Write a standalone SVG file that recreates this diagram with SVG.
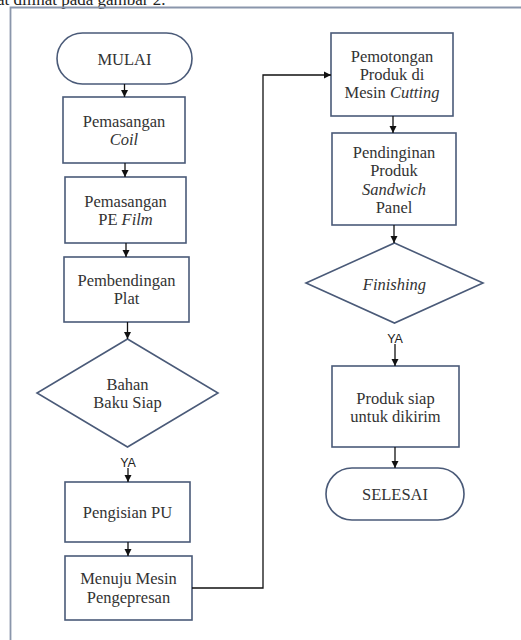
<svg xmlns="http://www.w3.org/2000/svg" width="521" height="640" viewBox="0 0 521 640">
<defs>
<marker id="ah" markerWidth="8" markerHeight="8" refX="7" refY="4" orient="auto" markerUnits="userSpaceOnUse">
<path d="M0,0.5 L7,4 L0,7.5 Z" fill="#111"/>
</marker>
<style>
.box{fill:#fff;stroke:#4a5a78;stroke-width:1.6}
.t{font-family:'Liberation Serif','DejaVu Serif',serif;font-size:16.5px;fill:#333;text-anchor:middle}
.i{font-style:italic}
.ya{font-family:'Liberation Sans',Arial,sans-serif;font-size:12.5px;fill:#222;text-anchor:middle}
.c{fill:none;stroke:#111;stroke-width:1.3}
</style>
</defs>
<rect width="521" height="640" fill="#fff"/>
<text x="-3" y="5" font-family="Liberation Serif, serif" font-size="17" fill="#222">at dilihat pada gambar 2.</text>
<path d="M10.5,640 V7.5 H521" fill="none" stroke="#8a96ab" stroke-width="1.8"/>

<g font-family="Liberation Serif, serif">
<g id="mulai"><rect class="box" x="57" y="33" width="135" height="51" rx="25.5"/><text class="t" x="124.5" y="64.5">MULAI</text></g>
<g id="coil"><rect class="box" x="63" y="97" width="122" height="66"/><text class="t" x="124" y="127">Pemasangan</text><text class="t i" x="124" y="145">Coil</text></g>
<g id="pefilm"><rect class="box" x="65" y="177" width="121" height="66"/><text class="t" x="125.5" y="207">Pemasangan</text><text class="t" x="125.5" y="225">PE <tspan class="i">Film</tspan></text></g>
<g id="pembendingan"><rect class="box" x="64" y="257" width="125" height="65"/><text class="t" x="126.5" y="285.5">Pembendingan</text><text class="t" x="126.5" y="303.5">Plat</text></g>
<g id="bahan"><polygon class="box" points="127.5,339 218,393 127.5,447 37,393"/><text class="t" x="127.5" y="390">Bahan</text><text class="t" x="127.5" y="408">Baku Siap</text></g>
<g id="pengisian"><rect class="box" x="65" y="482" width="125" height="60"/><text class="t" x="127.5" y="518">Pengisian PU</text></g>
<g id="menuju"><rect class="box" x="65" y="556" width="127" height="64"/><text class="t" x="128.5" y="584">Menuju Mesin</text><text class="t" x="128.5" y="603">Pengepresan</text></g>
<g id="pemotongan"><rect class="box" x="331" y="33" width="122" height="83"/><text class="t" x="392" y="62">Pemotongan</text><text class="t" x="392" y="80">Produk di</text><text class="t" x="392" y="98">Mesin <tspan class="i">Cutting</tspan></text></g>
<g id="pendinginan"><rect class="box" x="332" y="133" width="124" height="92"/><text class="t" x="394" y="158">Pendinginan</text><text class="t" x="394" y="176">Produk</text><text class="t i" x="394" y="195">Sandwich</text><text class="t" x="394" y="213">Panel</text></g>
<g id="finishing"><polygon class="box" points="394.5,243 483,283 394.5,323 306,283"/><text class="t i" x="394.5" y="290">Finishing</text></g>
<g id="produk"><rect class="box" x="332" y="366" width="127" height="81"/><text class="t" x="395.5" y="404">Produk siap</text><text class="t" x="395.5" y="422">untuk dikirim</text></g>
<g id="selesai"><rect class="box" x="326" y="468" width="138" height="52" rx="26"/><text class="t" x="395" y="499.5">SELESAI</text></g>
</g>

<g id="connectors">
<line class="c" x1="124.5" y1="84" x2="124.5" y2="97" marker-end="url(#ah)"/>
<line class="c" x1="125" y1="163" x2="125" y2="177" marker-end="url(#ah)"/>
<line class="c" x1="126" y1="243" x2="126" y2="257" marker-end="url(#ah)"/>
<line class="c" x1="127.5" y1="322" x2="127.5" y2="339" marker-end="url(#ah)"/>
<line class="c" x1="128" y1="468" x2="128" y2="482" marker-end="url(#ah)"/>
<line class="c" x1="128" y1="542" x2="128" y2="556" marker-end="url(#ah)"/>
<polyline class="c" points="192,588 263,588 263,75 331,75" marker-end="url(#ah)" stroke="#333"/>
<line class="c" x1="393" y1="116" x2="393" y2="133" marker-end="url(#ah)"/>
<line class="c" x1="394" y1="225" x2="394" y2="243" marker-end="url(#ah)"/>
<line class="c" x1="395" y1="344" x2="395" y2="366" marker-end="url(#ah)"/>
<line class="c" x1="395" y1="447" x2="395" y2="468" marker-end="url(#ah)"/>
<text class="ya" x="128" y="467">YA</text>
<text class="ya" x="395" y="343">YA</text>
</g>
</svg>
